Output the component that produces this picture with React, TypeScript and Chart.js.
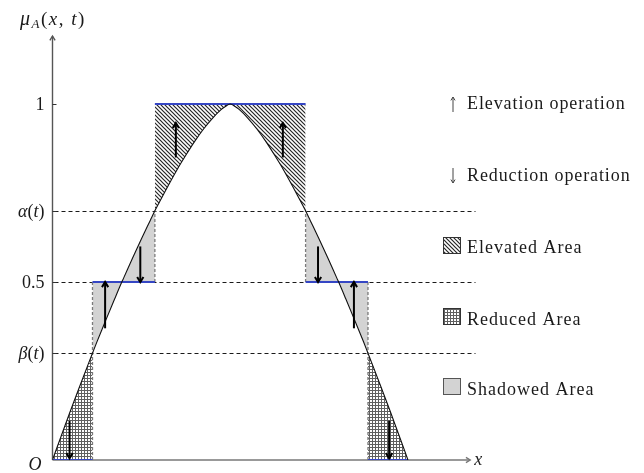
import { useEffect, useRef } from "react";
import { Chart, registerables } from "chart.js";

Chart.register(...registerables);

// Membership function μ_A(x) sampled along x (symmetric bell, peak at x = 5)
const curveX = [
  0, 0.25, 0.5, 0.75, 1.0, 1.125, 1.25, 1.5, 1.75, 1.95, 2.0, 2.25, 2.5, 2.75, 2.88, 3.0,
  3.25, 3.5, 3.75, 4.0, 4.25, 4.5, 4.75, 4.875, 5, 5.125, 5.25, 5.5, 5.75, 6.0, 6.25, 6.5,
  6.75, 7.0, 7.12, 7.25, 7.5, 7.75, 8.0, 8.05, 8.25, 8.5, 8.75, 8.875, 9.0, 9.25, 9.5, 9.75, 10,
];
const curveY = [
  0, 0.069, 0.137, 0.203, 0.268, 0.3, 0.332, 0.393, 0.453, 0.5, 0.511, 0.567, 0.621, 0.673, 0.7, 0.723,
  0.77, 0.815, 0.856, 0.895, 0.93, 0.96, 0.985, 0.994, 1, 0.994, 0.985, 0.96, 0.93, 0.895, 0.856, 0.815,
  0.77, 0.723, 0.7, 0.673, 0.621, 0.567, 0.511, 0.5, 0.453, 0.393, 0.332, 0.3, 0.268, 0.203, 0.137, 0.069, 0,
];

// Thresholds
const BETA = 0.3;
const HALF = 0.5;
const ALPHA = 0.7;

// x-ranges of the three kinds of area
const reducedRanges = [
  [0, 1.125],
  [8.875, 10],
];
const shadowRanges = [
  [1.125, 2.88],
  [7.12, 8.875],
];
const elevatedRange = [2.88, 7.12];

// Modified membership levels (blue segments)
const levelStart = [0, 1.125, 2.88, 7.12, 8.875];
const levelEnd = [1.125, 2.88, 7.12, 8.875, 10];
const levelValue = [0, 0.5, 1, 0.5, 0];

// Dashed region borders
const borderX = [1.125, 2.88, 7.12, 8.875];
const borderFrom = [0, 0.5, 0.5, 0];
const borderTo = [0.5, 0.7, 0.7, 0.5];

// Operation arrows
const arrowX = [0.48, 1.48, 2.47, 3.47, 6.48, 7.47, 8.48, 9.47];
const arrowFrom = [0.11, 0.37, 0.6, 0.85, 0.85, 0.6, 0.37, 0.11];
const arrowTo = [0.005, 0.5, 0.5, 0.947, 0.947, 0.5, 0.5, 0.005];

// y-axis ticks
const tickValues = [BETA, HALF, ALPHA, 1];
const tickLabels = ["β(t)", "0.5", "α(t)", "1"];

// Legend entries
const legendOps = ["Elevation operation", "Reduction operation"];
const legendAreas = ["Elevated Area", "Reduced Area", "Shadowed Area"];

const X_MAX = 11.9;
const Y_MAX = 1.194;
const X_AXIS_END = 11.75;

const SERIF = "'Liberation Serif', 'Times New Roman', serif";
const INK = "#1a1a1a";
const BLUE = "#3546c4";
const SHADE = "#d3d3d3";

type Span = { t: string; it?: boolean; size?: number; dy?: number };

function spansFor(label: string): Span[] {
  return [...label].map((ch) => ({ t: ch, it: /[A-Za-z\u03b1-\u03c9]/.test(ch) }));
}

function drawSpans(
  ctx: CanvasRenderingContext2D,
  spans: Span[],
  x: number,
  base: number,
  align: "left" | "right",
  size: number
) {
  const fontOf = (s: Span) => `${s.it ? "italic " : ""}${s.size ?? size}px ${SERIF}`;
  const widths = spans.map((s) => {
    ctx.font = fontOf(s);
    return ctx.measureText(s.t).width;
  });
  const total = widths.reduce((a, b) => a + b, 0);
  let cx = align === "right" ? x - total : x;
  ctx.textAlign = "left";
  ctx.textBaseline = "alphabetic";
  spans.forEach((s, i) => {
    ctx.font = fontOf(s);
    ctx.fillText(s.t, cx, base + (s.dy ?? 0));
    cx += widths[i];
  });
}

function drawArrow(
  ctx: CanvasRenderingContext2D,
  x0: number,
  y0: number,
  x1: number,
  y1: number,
  head: number,
  width: number,
  color: string
) {
  const ang = Math.atan2(y1 - y0, x1 - x0);
  ctx.strokeStyle = color;
  ctx.lineWidth = width;
  ctx.lineCap = "butt";
  ctx.beginPath();
  ctx.moveTo(x0, y0);
  ctx.lineTo(x1, y1);
  ctx.stroke();
  ctx.lineJoin = "miter";
  ctx.beginPath();
  ctx.moveTo(x1 - head * Math.cos(ang - 0.55), y1 - head * Math.sin(ang - 0.55));
  ctx.lineTo(x1, y1);
  ctx.lineTo(x1 - head * Math.cos(ang + 0.55), y1 - head * Math.sin(ang + 0.55));
  ctx.stroke();
}

function makeHatch(ctx: CanvasRenderingContext2D) {
  const c = document.createElement("canvas");
  c.width = 4;
  c.height = 4;
  const g = c.getContext("2d")!;
  g.fillStyle = "#ffffff";
  g.fillRect(0, 0, 4, 4);
  g.strokeStyle = "#262626";
  g.lineWidth = 1.2;
  g.beginPath();
  g.moveTo(-1, -1);
  g.lineTo(5, 5);
  g.moveTo(3, -1);
  g.lineTo(5, 1);
  g.moveTo(-1, 3);
  g.lineTo(1, 5);
  g.stroke();
  return ctx.createPattern(c, "repeat")!;
}

function makeGrid(ctx: CanvasRenderingContext2D) {
  const c = document.createElement("canvas");
  c.width = 3;
  c.height = 3;
  const g = c.getContext("2d")!;
  g.fillStyle = "#ffffff";
  g.fillRect(0, 0, 3, 3);
  g.fillStyle = "#606060";
  g.fillRect(0, 0, 3, 1);
  g.fillRect(0, 0, 1, 3);
  return ctx.createPattern(c, "repeat")!;
}

const segment = (lo: number, hi: number) =>
  curveX
    .map((x, i) => ({ x, y: curveY[i] }))
    .filter((p) => p.x >= lo - 1e-9 && p.x <= hi + 1e-9);

export default function App() {
  const ref = useRef<HTMLCanvasElement>(null);

  useEffect(() => {
    const canvas = ref.current!;
    const ctx0 = canvas.getContext("2d")!;
    const hatch = makeHatch(ctx0);
    const grid = makeGrid(ctx0);

    const area = {
      showLine: true,
      pointRadius: 0,
      borderWidth: 0,
      borderColor: "rgba(0,0,0,0)",
      cubicInterpolationMode: "monotone" as const,
    };

    const datasets: any[] = [
      { ...area, data: segment(elevatedRange[0], elevatedRange[1]), fill: { value: 1 }, backgroundColor: hatch, order: 6 },
      ...reducedRanges.map((r) => ({
        ...area,
        data: segment(r[0], r[1]),
        fill: { value: 0 },
        backgroundColor: grid,
        order: 6,
      })),
      ...shadowRanges.map((r) => ({
        ...area,
        data: segment(r[0], r[1]),
        fill: { value: HALF },
        backgroundColor: SHADE,
        order: 6,
      })),
      ...borderX.map((x, i) => ({
        pointRadius: 0,
        data: [
          { x, y: borderFrom[i] },
          { x, y: borderTo[i] },
        ],
        borderColor: "#7a7a7a",
        borderWidth: 1.3,
        borderDash: [3, 2],
        fill: false,
        order: 4,
      })),
      ...levelStart.map((x0, i) => ({
        pointRadius: 0,
        data: [
          { x: x0, y: levelValue[i] },
          { x: levelEnd[i], y: levelValue[i] },
        ],
        borderColor: BLUE,
        borderWidth: 2,
        fill: false,
        order: 2,
      })),
      {
        pointRadius: 0,
        data: curveX.map((x, i) => ({ x, y: curveY[i] })),
        borderColor: "#111111",
        borderWidth: 1.1,
        cubicInterpolationMode: "monotone",
        fill: false,
        order: 1,
      },
    ];

    const decor = {
      id: "decor",
      beforeDatasetsDraw(chart: any) {
        const { ctx } = chart;
        const xs = chart.scales.x;
        const ys = chart.scales.y;
        const ox = xs.getPixelForValue(0);
        const oy = ys.getPixelForValue(0);
        ctx.save();
        // dashed threshold guides
        ctx.strokeStyle = "#000";
        ctx.lineWidth = 0.9;
        ctx.setLineDash([4, 3]);
        [BETA, HALF, ALPHA].forEach((v) => {
          const py = Math.round(ys.getPixelForValue(v)) + 0.5;
          ctx.beginPath();
          ctx.moveTo(ox + 2, py);
          ctx.lineTo(xs.getPixelForValue(X_MAX), py);
          ctx.stroke();
        });
        ctx.setLineDash([]);
        // axes
        drawArrow(ctx, ox, oy, ox, ys.getPixelForValue(Y_MAX) + 1, 5, 1.4, "#555");
        drawArrow(ctx, ox, oy, xs.getPixelForValue(X_AXIS_END), oy, 5, 1.4, "#777");
        ctx.restore();
      },
      afterDatasetsDraw(chart: any) {
        const { ctx } = chart;
        const xs = chart.scales.x;
        const ys = chart.scales.y;
        const ox = xs.getPixelForValue(0);
        const oy = ys.getPixelForValue(0);
        ctx.save();
        // operation arrows
        arrowX.forEach((x, i) => {
          const px = xs.getPixelForValue(x);
          drawArrow(ctx, px, ys.getPixelForValue(arrowFrom[i]), px, ys.getPixelForValue(arrowTo[i]), 6, 2, "#000");
        });
        // ticks and tick labels
        ctx.fillStyle = INK;
        ctx.strokeStyle = "#333";
        ctx.lineWidth = 1;
        tickValues.forEach((v, i) => {
          const py = ys.getPixelForValue(v);
          ctx.beginPath();
          ctx.moveTo(ox, Math.round(py) + 0.5);
          ctx.lineTo(ox + 4, Math.round(py) + 0.5);
          ctx.stroke();
          drawSpans(ctx, spansFor(tickLabels[i]), ox - 8, py + 6, "right", 18);
        });
        // axis names
        ctx.letterSpacing = "1.5px";
        drawSpans(
          ctx,
          [
            { t: "μ", it: true, size: 20 },
            { t: "A", it: true, size: 13, dy: 3 },
            { t: "(" },
            { t: "x", it: true },
            { t: ", " },
            { t: "t", it: true },
            { t: ")" },
          ],
          20,
          25,
          "left",
          19
        );
        ctx.letterSpacing = "0px";
        drawSpans(ctx, [{ t: "O", it: true }], ox - 24, oy + 10, "left", 18);
        drawSpans(ctx, [{ t: "x", it: true }], xs.getPixelForValue(X_AXIS_END) + 4, oy + 5, "left", 18);

        // legend: operations
        const lx = 453;
        const tx = 467;
        const opBase = [109, 181];
        legendOps.forEach((label, i) => {
          const b = opBase[i];
          if (i === 0) drawArrow(ctx, lx, b + 3, lx, b - 12, 4, 1, "#444");
          else drawArrow(ctx, lx, b - 13, lx, b + 2, 4, 1, "#444");
          ctx.fillStyle = INK;
          ctx.letterSpacing = "0.9px";
          drawSpans(ctx, [{ t: label }], tx, b, "left", 18);
          ctx.letterSpacing = "0px";
        });
        // legend: areas
        const boxTop = [237, 308, 378];
        const boxFill = [hatch, grid, SHADE];
        const boxEdge = ["#333", "#333", "#555"];
        const areaBase = [253, 325, 395];
        legendAreas.forEach((label, i) => {
          ctx.fillStyle = boxFill[i];
          ctx.fillRect(443, boxTop[i], 18, 17);
          ctx.strokeStyle = boxEdge[i];
          ctx.lineWidth = 1;
          ctx.strokeRect(443.5, boxTop[i] + 0.5, 17, 16);
          ctx.fillStyle = INK;
          ctx.letterSpacing = "1px";
          drawSpans(ctx, [{ t: label }], tx, areaBase[i], "left", 18);
          ctx.letterSpacing = "0px";
        });
        ctx.restore();
      },
    };

    const chart = new Chart(canvas, {
      type: "line",
      data: { datasets },
      options: {
        animation: false,
        responsive: false,
        events: [],
        layout: { padding: { left: 52.5, right: 168.5, top: 35, bottom: 13 } },
        scales: {
          x: { type: "linear", min: 0, max: X_MAX, display: false },
          y: { type: "linear", min: 0, max: Y_MAX, display: false },
        },
        plugins: { legend: { display: false }, tooltip: { enabled: false } },
      },
      plugins: [decor],
    });
    return () => chart.destroy();
  }, []);

  return (
    <div style={{ position: "fixed", left: 0, top: 0, width: 644, height: 473, background: "#fff" }}>
      <canvas ref={ref} width={644} height={473} style={{ display: "block" }} />
    </div>
  );
}
